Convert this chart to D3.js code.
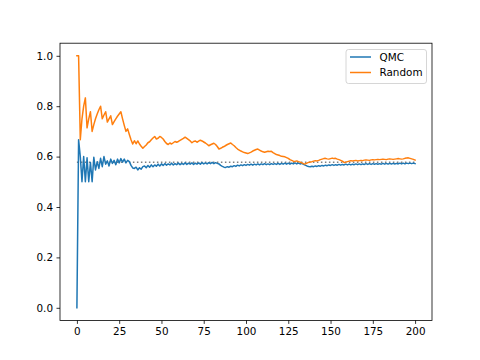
<!DOCTYPE html>
<html><head><meta charset="utf-8">
<script src="https://cdn.jsdelivr.net/npm/d3@7"></script>
<style>body{margin:0;background:#fff}svg{display:block}</style>
</head><body>
<svg id="c" width="480" height="360"></svg>
<script>
const seriesNames = ["QMC", "Random"];
const seriesColors = ["#1f77b4", "#ff7f0e"];
const referenceValue = 0.5772;
const xTicks = [0, 25, 50, 75, 100, 125, 150, 175, 200];
const yTicks = [0.0, 0.2, 0.4, 0.6, 0.8, 1.0];

const qmc = [
0.0,0.667,0.6,0.5,0.6,0.5,0.595,0.5,0.577,0.5,
0.597,0.547,0.58,0.553,0.593,0.56,0.6,0.57,0.583,0.563,
0.59,0.573,0.585,0.568,0.59,0.575,0.592,0.578,0.59,0.575,
0.585,0.58,0.565,0.555,0.553,0.558,0.547,0.556,0.55,0.56,
0.563,0.556,0.565,0.558,0.567,0.56,0.567,0.562,0.57,0.563,
0.571,0.565,0.572,0.566,0.571,0.567,0.574,0.567,0.572,0.568,
0.574,0.568,0.573,0.569,0.575,0.569,0.574,0.57,0.575,0.569,
0.574,0.57,0.575,0.57,0.576,0.571,0.575,0.571,0.576,0.572,
0.577,0.572,0.576,0.573,0.571,0.565,0.561,0.558,0.557,0.56,
0.558,0.562,0.56,0.564,0.561,0.566,0.563,0.567,0.564,0.568,
0.565,0.569,0.566,0.57,0.566,0.57,0.567,0.571,0.567,0.571,
0.568,0.572,0.568,0.571,0.568,0.572,0.569,0.572,0.569,0.573,
0.569,0.573,0.57,0.574,0.57,0.574,0.57,0.574,0.571,0.575,
0.571,0.574,0.571,0.573,0.569,0.566,0.563,0.561,0.56,0.562,
0.56,0.563,0.561,0.564,0.562,0.565,0.563,0.566,0.564,0.567,
0.565,0.568,0.565,0.568,0.566,0.569,0.566,0.569,0.567,0.57,
0.567,0.57,0.567,0.57,0.568,0.571,0.568,0.571,0.568,0.571,
0.569,0.572,0.569,0.572,0.569,0.572,0.57,0.572,0.57,0.572,
0.57,0.573,0.57,0.573,0.57,0.573,0.571,0.573,0.571,0.573,
0.571,0.574,0.571,0.574,0.571,0.574,0.572,0.574,0.572,0.574,
0.572
];

const random = [
1.0,1.0,0.667,0.75,0.8,0.833,0.714,0.75,0.778,0.7,
0.727,0.75,0.769,0.786,0.8,0.75,0.765,0.778,0.737,0.75,
0.762,0.727,0.739,0.75,0.76,0.769,0.778,0.75,0.724,0.7,
0.71,0.688,0.667,0.65,0.663,0.651,0.662,0.65,0.641,0.633,
0.64,0.646,0.655,0.659,0.667,0.674,0.68,0.67,0.673,0.68,
0.676,0.67,0.66,0.652,0.648,0.654,0.65,0.655,0.66,0.657,
0.66,0.664,0.668,0.672,0.677,0.672,0.667,0.662,0.655,0.66,
0.662,0.657,0.661,0.665,0.662,0.658,0.654,0.649,0.643,0.647,
0.65,0.653,0.648,0.64,0.63,0.633,0.637,0.64,0.644,0.648,
0.651,0.654,0.648,0.643,0.636,0.63,0.626,0.622,0.619,0.616,
0.614,0.612,0.615,0.618,0.622,0.625,0.628,0.63,0.626,0.622,
0.619,0.617,0.619,0.621,0.62,0.621,0.616,0.612,0.608,0.606,
0.604,0.601,0.6,0.599,0.596,0.593,0.588,0.585,0.582,0.581,
0.583,0.58,0.578,0.575,0.572,0.571,0.574,0.577,0.579,0.58,
0.582,0.584,0.583,0.585,0.588,0.59,0.592,0.593,0.591,0.59,
0.592,0.594,0.592,0.593,0.59,0.588,0.585,0.582,0.577,0.578,
0.58,0.582,0.584,0.583,0.584,0.585,0.583,0.584,0.585,0.584,
0.586,0.587,0.586,0.585,0.587,0.588,0.587,0.588,0.589,0.588,
0.589,0.59,0.589,0.588,0.59,0.591,0.59,0.589,0.59,0.591,
0.592,0.591,0.59,0.591,0.593,0.594,0.595,0.593,0.591,0.589,
0.586
];

const W = 480, H = 360;
const m = {left: 60, right: 432, top: 43.2, bottom: 320.4};
const svg = d3.select("#c");
const font = "DejaVu Sans, sans-serif";

const x = d3.scaleLinear().domain([-10, 210]).range([m.left, m.right]);
const y = d3.scaleLinear().domain([-0.05, 1.05]).range([m.bottom, m.top]);

// reference line
svg.append("line")
  .attr("x1", x(0)).attr("x2", x(200))
  .attr("y1", y(referenceValue)).attr("y2", y(referenceValue))
  .attr("stroke", "#808080").attr("stroke-width", 1.5)
  .attr("stroke-dasharray", "1.5,2.5");

const line = d3.line().x((d, i) => x(i)).y(d => y(d));
[qmc, random].forEach((s, k) => {
  svg.append("path").datum(s)
    .attr("d", line).attr("fill", "none")
    .attr("stroke", seriesColors[k]).attr("stroke-width", 1.5)
    .attr("stroke-linejoin", "round").attr("stroke-linecap", "square");
});

// axes
const xAxis = d3.axisBottom(x).tickValues(xTicks).tickSize(3.5).tickPadding(3.5).tickFormat(d3.format("d"));
const yAxis = d3.axisLeft(y).tickValues(yTicks).tickSize(3.5).tickPadding(3.5).tickFormat(d3.format(".1f"));
const gx = svg.append("g").attr("transform", `translate(0,${m.bottom})`).call(xAxis);
const gy = svg.append("g").attr("transform", `translate(${m.left},0)`).call(yAxis);
[gx, gy].forEach(g => {
  g.select(".domain").remove();
  g.selectAll(".tick line").attr("stroke", "#000").attr("stroke-width", 0.8);
  g.selectAll(".tick text").attr("font-family", font).attr("font-size", 10.4).attr("fill", "#000");
});
gx.selectAll(".tick text").attr("dy", "0.71em");

// frame
svg.append("rect")
  .attr("x", m.left).attr("y", m.top)
  .attr("width", m.right - m.left).attr("height", m.bottom - m.top)
  .attr("fill", "none").attr("stroke", "#000").attr("stroke-width", 0.8);

// legend
const lg = svg.append("g");
lg.append("rect").attr("x", 346).attr("y", 49.5).attr("width", 80.5).attr("height", 34)
  .attr("rx", 2.5).attr("fill", "#fff").attr("fill-opacity", 0.8)
  .attr("stroke", "#cccccc").attr("stroke-width", 0.8);
seriesNames.forEach((name, k) => {
  const yy = 57 + k * 15.5;
  lg.append("line").attr("x1", 350).attr("x2", 371).attr("y1", yy).attr("y2", yy)
    .attr("stroke", seriesColors[k]).attr("stroke-width", 1.5);
  lg.append("text").attr("x", 379.5).attr("y", yy).attr("dy", "0.35em")
    .attr("font-family", font).attr("font-size", 10.4).attr("fill", "#000").text(name);
});
</script>
</body></html>
